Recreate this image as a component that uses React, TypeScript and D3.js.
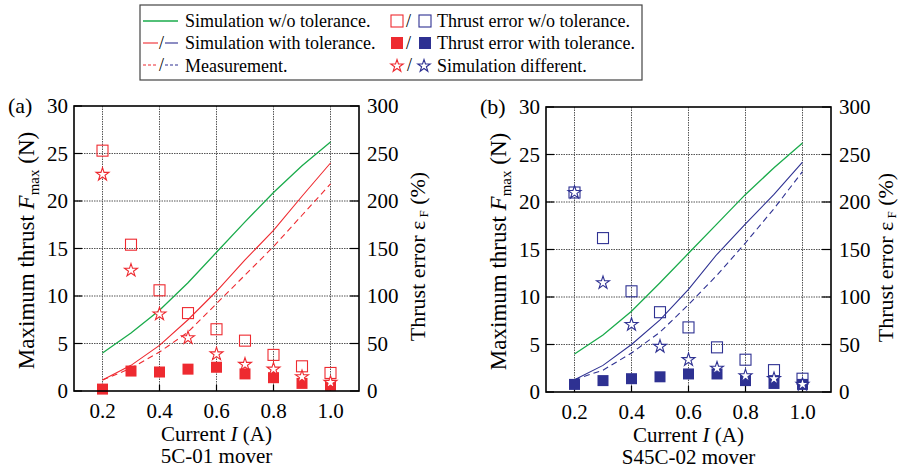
import React from 'react';
import * as d3 from 'd3';

// current steps (A)
const currents = [0.2, 0.3, 0.4, 0.5, 0.6, 0.7, 0.8, 0.9, 1.0];
const xTicks = [0.2, 0.4, 0.6, 0.8, 1.0];
const leftTicks = [0, 5, 10, 15, 20, 25, 30];
const rightTicks = [0, 50, 100, 150, 200, 250, 300];

// (a) 5C-01 mover
const aSimNoTol = [4.0, 6.1, 8.5, 11.4, 14.6, 17.8, 20.9, 23.7, 26.2];
const aSimTol = [1.15, 2.7, 4.8, 7.5, 10.5, 13.8, 16.9, 20.5, 24.0];
const aMeas = [1.15, 2.4, 4.1, 6.2, 9.2, 12.2, 15.2, 18.5, 21.8];
const aErrNoTol = [253, 154, 106, 82, 65, 53, 38, 26, 19];
const aErrTol = [2, 21, 20, 23, 25, 18, 14, 8, 6];
const aDiff = [229, 128, 82, 57, 40, 29, 24, 16, 10];

// (b) S45C-02 mover
const bSimNoTol = [4.0, 6.0, 8.5, 11.5, 14.6, 17.7, 20.8, 23.6, 26.2];
const bSimTol = [1.3, 2.8, 5.0, 7.6, 10.8, 14.5, 17.7, 20.8, 24.2];
const bMeas = [1.3, 2.3, 4.1, 6.3, 9.2, 12.3, 15.7, 19.3, 23.2];
const bErrNoTol = [210, 162, 106, 84, 68, 47, 34, 23, 14];
const bErrTol = [8, 12, 14, 16, 19, 19, 12, 9, 8];
const bDiff = [211, 116, 72, 49, 35, 26, 18, 15, 9];

const GREEN = '#1aab4b';
const RED = '#ee2a30';
const BLUE = '#2e3192';
const FONT = "'Liberation Serif', 'Times New Roman', 'DejaVu Serif', serif";

const starSmall = d3.symbol().type(d3.symbolStar).size(48)();
const starBig = d3.symbol().type(d3.symbolStar).size(52)();

function Panel({x0, y0, color, label, caption, titleR, simNoTol, simTol, meas, errNoTol, errTol, diff}) {
  const w = 285, h = 285;
  const x = d3.scaleLinear().domain([0.1, 1.1]).range([x0, x0 + w]);
  const yL = d3.scaleLinear().domain([0, 30]).range([y0 + h, y0]);
  const yR = d3.scaleLinear().domain([0, 300]).range([y0 + h, y0]);
  const line = (vals) => d3.line().x((d, i) => x(currents[i])).y(d => yL(d))(vals);
  const sq = 11;

  return (
    <g style={{fontFamily: FONT}}>
      {/* grid */}
      {xTicks.map(t => (
        <line key={'gx' + t} x1={x(t)} x2={x(t)} y1={y0} y2={y0 + h} stroke="#555" strokeWidth={1} strokeDasharray="1.5,1" />
      ))}
      {leftTicks.slice(1, -1).map(t => (
        <line key={'gy' + t} x1={x0} x2={x0 + w} y1={yL(t)} y2={yL(t)} stroke="#555" strokeWidth={1} strokeDasharray="1.5,1" />
      ))}
      {/* ticks */}
      {leftTicks.map(t => (
        <g key={'t' + t}>
          <line x1={x0} x2={x0 + 8} y1={yL(t)} y2={yL(t)} stroke="#000" strokeWidth={1.2} />
          <line x1={x0 + w - 9} x2={x0 + w} y1={yL(t)} y2={yL(t)} stroke="#000" strokeWidth={1.2} />
          <text x={x0 - 6} y={yL(t) + 7} fontSize={21} textAnchor="end">{t}</text>
        </g>
      ))}
      {rightTicks.map(t => (
        <text key={'r' + t} x={x0 + w + 8} y={yR(t) + 7} fontSize={21}>{t}</text>
      ))}
      {xTicks.map(t => (
        <g key={'xt' + t}>
          <line x1={x(t)} x2={x(t)} y1={y0 + h} y2={y0 + h - 6} stroke="#000" strokeWidth={1.2} />
          <text x={x(t)} y={y0 + h + 27} fontSize={21} textAnchor="middle">{t.toFixed(1)}</text>
        </g>
      ))}

      {/* lines */}
      <path d={line(simNoTol)} fill="none" stroke={GREEN} strokeWidth={1.3} />
      <path d={line(simTol)} fill="none" stroke={color} strokeWidth={1.1} />
      <path d={line(meas)} fill="none" stroke={color} strokeWidth={1.1} strokeDasharray="6,4" />

      {/* markers */}
      {errTol.map((v, i) => (
        <rect key={'f' + i} x={x(currents[i]) - sq / 2} y={yR(v) - sq / 2} width={sq} height={sq} fill={color} />
      ))}
      {errNoTol.map((v, i) => (
        <rect key={'o' + i} x={x(currents[i]) - sq / 2} y={yR(v) - sq / 2} width={sq} height={sq} fill="none" stroke={color} strokeWidth={1.1} />
      ))}
      {diff.map((v, i) => (
        <path key={'s' + i} d={starBig} transform={`translate(${x(currents[i])},${yR(v) + 1})`} fill="#fff" stroke={color} strokeWidth={1.1} />
      ))}

      {/* frame */}
      <rect x={x0} y={y0} width={w} height={h} fill="none" stroke="#000" strokeWidth={1.6} />

      {/* labels */}
      <text x={x0 - 66} y={y0 + 7} fontSize={22}>{label}</text>
      <text transform={`translate(${x0 - 40},${y0 + h / 2 + 2}) rotate(-90)`} fontSize={23} textAnchor="middle">
        Maximum thrust <tspan fontStyle="italic">F</tspan><tspan fontSize={15} dy={5}>max</tspan><tspan dy={-5}> (N)</tspan>
      </text>
      <text transform={`translate(${x0 + w + titleR},${y0 + h / 2 + 8}) rotate(-90)`} fontSize={22} textAnchor="middle">
        Thrust error  ε<tspan fontSize={13} dy={3}> F</tspan><tspan dy={-3}> (%)</tspan>
      </text>
      <text x={x(0.6)} y={y0 + h + 50} fontSize={21} textAnchor="middle">
        Current <tspan fontStyle="italic">I</tspan> (A)
      </text>
      <text x={x(0.6)} y={y0 + h + 72} fontSize={21} textAnchor="middle">{caption}</text>
    </g>
  );
}

function Legend() {
  const rows = [21, 43, 65];
  return (
    <g style={{fontFamily: FONT}} fontSize={18}>
      <rect x={140} y={5} width={502} height={75} fill="#fff" stroke="#444" strokeWidth={1.2} />
      <line x1={143} x2={178} y1={rows[0]} y2={rows[0]} stroke={GREEN} strokeWidth={1.3} />
      <line x1={143} x2={158} y1={rows[1]} y2={rows[1]} stroke={RED} strokeWidth={1.1} />
      <text x={159} y={rows[1] + 6}>/</text>
      <line x1={165} x2={178} y1={rows[1]} y2={rows[1]} stroke={BLUE} strokeWidth={1.1} />
      <line x1={143} x2={158} y1={rows[2]} y2={rows[2]} stroke={RED} strokeWidth={1.1} strokeDasharray="3,2" />
      <text x={159} y={rows[2] + 6}>/</text>
      <line x1={165} x2={178} y1={rows[2]} y2={rows[2]} stroke={BLUE} strokeWidth={1.1} strokeDasharray="3,2" />
      <text x={185} y={27}>Simulation w/o tolerance.</text>
      <text x={185} y={49}>Simulation with tolerance.</text>
      <text x={185} y={72}>Measurement.</text>

      <rect x={391} y={rows[0] - 6} width={12} height={12} fill="none" stroke={RED} strokeWidth={1.1} />
      <text x={406} y={rows[0] + 6}>/</text>
      <rect x={419} y={rows[0] - 6} width={12} height={12} fill="none" stroke={BLUE} strokeWidth={1.1} />
      <rect x={391} y={rows[1] - 6} width={12} height={12} fill={RED} />
      <text x={406} y={rows[1] + 6}>/</text>
      <rect x={419} y={rows[1] - 6} width={12} height={12} fill={BLUE} />
      <path d={starSmall} transform={`translate(397,${rows[2] + 1})`} fill="#fff" stroke={RED} strokeWidth={1.1} />
      <text x={407} y={rows[2] + 6}>/</text>
      <path d={starSmall} transform={`translate(424,${rows[2] + 1})`} fill="#fff" stroke={BLUE} strokeWidth={1.1} />
      <text x={437} y={27}>Thrust error w/o tolerance.</text>
      <text x={437} y={49}>Thrust error with tolerance.</text>
      <text x={437} y={72}>Simulation different.</text>
    </g>
  );
}

export default function App() {
  return (
    <svg width={901} height={472} style={{position: 'absolute', left: 0, top: 0, background: '#fff'}}>
      <Legend />
      <Panel x0={74} y0={106} color={RED} label="(a)" caption="5C-01 mover" titleR={66}
        simNoTol={aSimNoTol} simTol={aSimTol} meas={aMeas} errNoTol={aErrNoTol} errTol={aErrTol} diff={aDiff} />
      <Panel x0={546} y0={107} color={BLUE} label="(b)" caption="S45C-02 mover" titleR={62}
        simNoTol={bSimNoTol} simTol={bSimTol} meas={bMeas} errNoTol={bErrNoTol} errTol={bErrTol} diff={bDiff} />
    </svg>
  );
}
